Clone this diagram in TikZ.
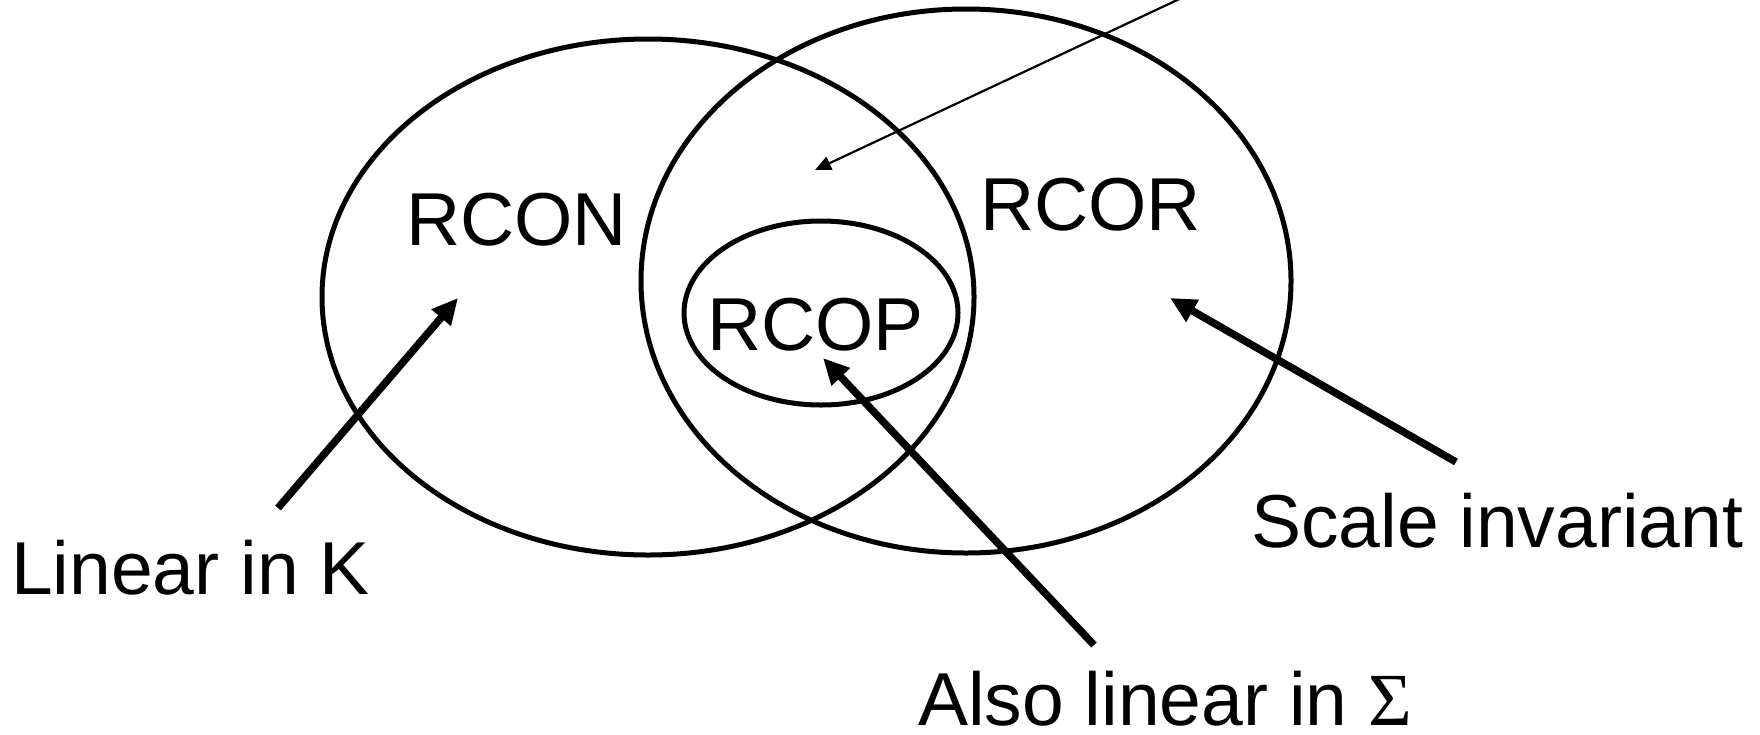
\documentclass[tikz,border=0pt]{standalone}
\usepackage{fontspec}
\setmainfont{Liberation Sans}
\newfontfamily\sigmafont{Liberation Serif}
\usetikzlibrary{arrows.meta}
\tikzset{
  setline/.style={line width=5pt},
  bigtext/.style={font=\fontsize{75}{90}\selectfont, inner sep=0pt, anchor=base west},
  thickarrow/.style={line width=7.5pt, -{Triangle[length=26pt,width=24pt]}},
  thinarrow/.style={line width=2.2pt, -{Triangle[length=16pt,width=14pt]}},
}
\begin{document}
\begin{tikzpicture}[x=1pt,y=-1pt]
\useasboundingbox (0,0) rectangle (1760,734);
\clip (0,0) rectangle (1760,734);
% sets
\draw[setline] (648,297) ellipse [x radius=326, y radius=258];
\draw[setline] (966,281) ellipse [x radius=325, y radius=272];
\draw[setline] (821,313) ellipse [x radius=137, y radius=92];
% set labels
\node[bigtext] (rcon) at (406,245) {RCON};
\node[bigtext] (rcor) at (980,230) {RCOR};
\node[bigtext] (rcop) at (707,350) {RCOP};
% annotations
\node[bigtext] (lin) at (11,594) {Linear in K};
\node[bigtext] (scale) at (1251,547) {Scale invariant};
\node[bigtext, text depth=0pt] (also) at (918,725) {Also linear in {\sigmafont Σ}};
% arrow endpoints
\coordinate (t0) at (1190,-6);
\coordinate (h0) at (815,170);
\coordinate (t1) at (278,508);
\coordinate (h1) at (458,298);
\coordinate (t2) at (1094,645);
\coordinate (h2) at (823,358);
\coordinate (t3) at (1456,462);
\coordinate (h3) at (1170,298);
\draw[thinarrow] (t0) -- (h0);
\draw[thickarrow] (t1) -- (h1);
\draw[thickarrow] (t2) -- (h2);
\draw[thickarrow] (t3) -- (h3);
\end{tikzpicture}
\end{document}
